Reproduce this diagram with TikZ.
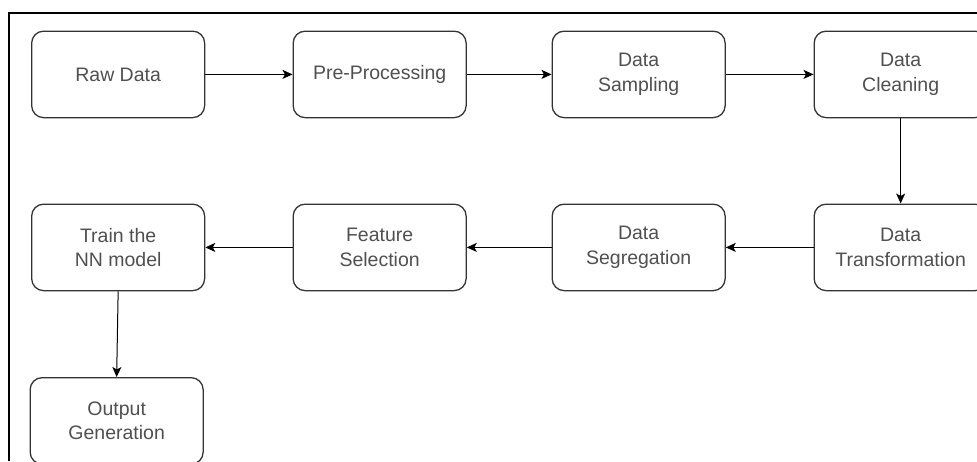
\documentclass[tikz,border=0pt]{standalone}
\usepackage{fontspec}
\setmainfont{Liberation Sans}
\usetikzlibrary{arrows.meta}
\definecolor{boxline}{HTML}{333333}
\definecolor{txt}{HTML}{505050}
\tikzset{
  stepbox/.style={draw=boxline, line width=1.3pt, rounded corners=12pt, fill=white,
    minimum width=173pt, minimum height=86.5pt, inner sep=0pt, align=center,
    text=txt, font=\fontsize{19.5pt}{24.5pt}\selectfont, anchor=north west},
  flow/.style={draw=black, line width=1pt, -{Stealth[length=10pt,width=9pt,inset=2.5pt]}},
  frameline/.style={draw=black, line width=2pt}
}
\begin{document}
\begin{tikzpicture}[x=1pt,y=-1pt]
\useasboundingbox (0,0) rectangle (977,461);
\coordinate (fa) at (9,461);
\coordinate (fb) at (9,12.5);
\coordinate (fc) at (990,12.5);
\draw[frameline] (fa) -- (fb) -- (fc);
\node[stepbox] (raw) at (31,30.5) {Raw Data};
\node[stepbox] (pre) at (292.5,30.5) {Pre-Processing};
\node[stepbox] (samp) at (551.5,30.5) {Data\\Sampling};
\node[stepbox] (clean) at (813.5,30.5) {Data\\Cleaning};
\node[stepbox] (train) at (31,203.5) {Train the\\NN model};
\node[stepbox] (feat) at (292.5,203.5) {Feature\\Selection};
\node[stepbox] (seg) at (551.5,203.5) {Data\\Segregation};
\node[stepbox] (trans) at (813.5,203.5) {Data\\Transformation};
\node[stepbox] (out) at (29.5,377) {Output\\Generation};
\draw[flow] (raw) -- (pre);
\draw[flow] (pre) -- (samp);
\draw[flow] (samp) -- (clean);
\draw[flow] (clean) -- (trans);
\draw[flow] (trans) -- (seg);
\draw[flow] (seg) -- (feat);
\draw[flow] (feat) -- (train);
\draw[flow] (train.south) -- (out.north);
\end{tikzpicture}
\end{document}
